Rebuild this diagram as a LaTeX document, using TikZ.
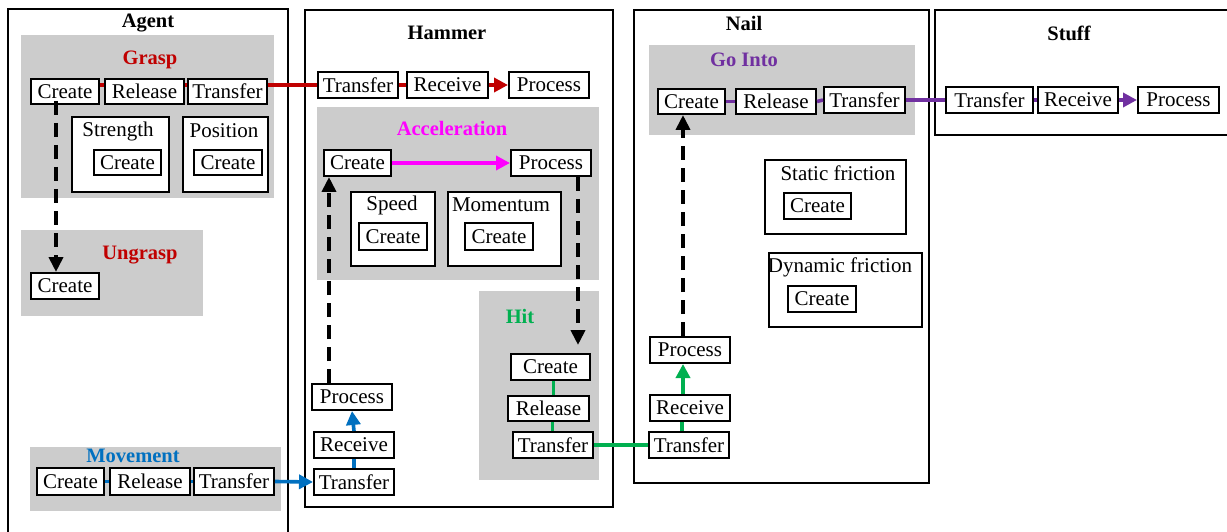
\documentclass[tikz,border=0pt]{standalone}
\usepackage{fontspec}
\setmainfont{Liberation Serif}
\usetikzlibrary{arrows.meta}
\definecolor{cred}{HTML}{C00000}
\definecolor{cmag}{HTML}{FF00FF}
\definecolor{cblue}{HTML}{0070C0}
\definecolor{cgreen}{HTML}{00B050}
\definecolor{cpurp}{HTML}{7030A0}
\definecolor{cgray}{HTML}{CCCCCC}
\tikzset{
  cont/.style={draw, line width=1.8pt},
  grp/.style={fill=cgray, anchor=north west, inner sep=0pt},
  frm/.style={draw, line width=2pt, fill=white, anchor=north west, inner sep=0pt},
  pbox/.style={draw, line width=2pt, fill=white, anchor=north west, inner sep=0pt,
    font=\fontsize{21}{24}\selectfont},
  lbl/.style={inner sep=0pt, font=\fontsize{21}{24}\selectfont},
  ttl/.style={inner sep=0pt, font=\fontsize{20.5}{24}\selectfont\bfseries},
  conn/.style={line width=3.6pt},
  tip/.style={-{Triangle[length=14pt,width=14pt]}},
  dsh/.style={line width=3.8pt, dash pattern=on 14pt off 8pt, -{Triangle[length=15pt,width=14pt]}},
}
\begin{document}
\begin{tikzpicture}[x=1pt, y=-1pt]
\useasboundingbox (0,0) rectangle (1227,532);
% ---------- Agent ----------
\draw[cont] (8,534) -- (8,9) -- (288,9) -- (288,534);
\node[ttl] (tAgent) at (148,23) {Agent};
\node[grp, minimum width=253pt, minimum height=163pt] (gGrasp) at (21,35) {};
\node[ttl, text=cred] (tGrasp) at (150,60) {Grasp};
\node[pbox, minimum width=68pt, minimum height=25pt] (gC) at (30,78) {Create};
\node[pbox, minimum width=79pt, minimum height=25pt] (gR) at (104,78) {Release};
\node[pbox, minimum width=79pt, minimum height=25pt] (gT) at (187,78) {Transfer};
\node[frm, minimum width=97pt, minimum height=75pt] (fStr) at (71,116) {};
\node[lbl] (tStr) at (118,131) {Strength};
\node[pbox, minimum width=67pt, minimum height=25pt] (sC) at (93,149) {Create};
\node[frm, minimum width=85pt, minimum height=75pt] (fPos) at (182,116) {};
\node[lbl] (tPos) at (224,131) {Position};
\node[pbox, minimum width=68pt, minimum height=25pt] (pC) at (193,149) {Create};
\node[grp, minimum width=182pt, minimum height=86pt] (gUng) at (21,230) {};
\node[ttl, text=cred] (tUng) at (140,255) {Ungrasp};
\node[pbox, minimum width=68pt, minimum height=26pt] (uC) at (30,272) {Create};
\node[grp, minimum width=251pt, minimum height=64pt] (gMov) at (30,447) {};
\node[ttl, text=cblue] (tMov) at (133,456) {Movement};
\node[pbox, minimum width=67pt, minimum height=27pt] (mC) at (36,467) {Create};
\node[pbox, minimum width=80pt, minimum height=27pt] (mR) at (109,467) {Release};
\node[pbox, minimum width=80pt, minimum height=27pt] (mT) at (193,467) {Transfer};
% ---------- Hammer ----------
\node[cont, anchor=north west, minimum width=308pt, minimum height=497pt, inner sep=0pt] (cHam) at (304,9) {};
\node[ttl] (tHam) at (447,33) {Hammer};
\node[pbox, minimum width=80pt, minimum height=26pt] (hT) at (317,71) {Transfer};
\node[pbox, minimum width=81pt, minimum height=26pt] (hR) at (406,71) {Receive};
\node[pbox, minimum width=80pt, minimum height=26pt] (hP) at (508,71) {Process};
\node[grp, minimum width=282pt, minimum height=173pt] (gAcc) at (317,107) {};
\node[ttl, text=cmag] (tAcc) at (452,128) {Acceleration};
\node[pbox, minimum width=67pt, minimum height=26pt] (aC) at (323,149) {Create};
\node[pbox, minimum width=80pt, minimum height=26pt] (aP) at (510,149) {Process};
\node[frm, minimum width=84pt, minimum height=74pt] (fSpd) at (350,191) {};
\node[lbl] (tSpd) at (392,205) {Speed};
\node[pbox, minimum width=68pt, minimum height=27pt] (spC) at (358,222) {Create};
\node[frm, minimum width=113pt, minimum height=74pt] (fMom) at (447,191) {};
\node[lbl] (tMom) at (501,205) {Momentum};
\node[pbox, minimum width=68pt, minimum height=27pt] (moC) at (464,222) {Create};
\node[grp, minimum width=120pt, minimum height=189pt] (gHit) at (479,291) {};
\node[ttl, text=cgreen] (tHit) at (520,316) {Hit};
\node[pbox, minimum width=79pt, minimum height=26pt] (hiC) at (510,353) {Create};
\node[pbox, minimum width=81pt, minimum height=25pt] (hiR) at (507,395) {Release};
\node[pbox, minimum width=80pt, minimum height=26pt] (hiT) at (512,431) {Transfer};
\node[pbox, minimum width=80pt, minimum height=26pt] (bP) at (311,383) {Process};
\node[pbox, minimum width=80pt, minimum height=26pt] (bR) at (313,431) {Receive};
\node[pbox, minimum width=80pt, minimum height=26pt] (bT) at (313,468) {Transfer};
% ---------- Nail ----------
\node[cont, anchor=north west, minimum width=295pt, minimum height=473pt, inner sep=0pt] (cNail) at (633,9) {};
\node[ttl] (tNail) at (744,23) {Nail};
\node[grp, minimum width=266pt, minimum height=90pt] (gGo) at (649,45) {};
\node[ttl, text=cpurp] (tGo) at (744,60) {Go Into};
\node[pbox, minimum width=67pt, minimum height=25pt] (nC) at (657,88) {Create};
\node[pbox, minimum width=80pt, minimum height=25pt] (nR) at (735,88) {Release};
\node[pbox, minimum width=81pt, minimum height=26pt] (nT) at (823,86) {Transfer};
\node[frm, minimum width=141pt, minimum height=74pt] (fSta) at (764,159) {};
\node[lbl] (tSta) at (838,173) {Static friction};
\node[pbox, minimum width=67pt, minimum height=26pt] (stC) at (783,192) {Create};
\node[frm, minimum width=153pt, minimum height=74pt] (fDyn) at (768,252) {};
\node[lbl] (tDyn) at (840,267) {Dynamic friction};
\node[pbox, minimum width=68pt, minimum height=26pt] (dyC) at (787,285) {Create};
\node[pbox, minimum width=80pt, minimum height=26pt] (nP) at (649,336) {Process};
\node[pbox, minimum width=80pt, minimum height=26pt] (nRe) at (649,394) {Receive};
\node[pbox, minimum width=80pt, minimum height=26pt] (nTr) at (648,431) {Transfer};
% ---------- Stuff ----------
\draw[cont] (1232,135) -- (935,135) -- (935,10) -- (1232,10);
\node[ttl] (tStuff) at (1069,33) {Stuff};
\node[pbox, minimum width=87pt, minimum height=26pt] (sT) at (945,86) {Transfer};
\node[pbox, minimum width=80pt, minimum height=26pt] (sR) at (1037,86) {Receive};
\node[pbox, minimum width=81pt, minimum height=26pt] (sP) at (1137,86) {Process};
% ---------- connectors ----------
\coordinate (redY) at (0,85);
% red
\draw[conn, cred] (gC.east |- redY) -- (gR.west |- redY);
\draw[conn, cred] (gR.east |- redY) -- (gT.west |- redY);
\draw[conn, cred] (gT.east |- redY) -- (hT.west |- redY);
\draw[conn, cred] (hT.east |- redY) -- (hR.west |- redY);
\draw[conn, cred, tip] (hR.east |- redY) -- (hP.west |- redY);
% blue
\draw[conn, cblue] (mC.east) -- (mR.west);
\draw[conn, cblue] (mR.east) -- (mT.west);
\draw[conn, cblue, tip] (mT.east) -- (bT.west);
\draw[conn, cblue] (bT.north) -- (bR.south);
\draw[conn, cblue, tip] (bR.north) -- (bP.south);
% magenta
\draw[conn, cmag, tip] (aC.east) -- (aP.west);
% green
\draw[conn, cgreen] ([xshift=3pt]hiC.south) -- ([xshift=3pt]hiC.south |- hiR.north);
\draw[conn, cgreen] ([xshift=4pt]hiR.south) -- ([xshift=4pt]hiR.south |- hiT.north);
\draw[conn, cgreen] (hiT.east) -- (nTr.west);
\draw[conn, cgreen] ([xshift=-7pt]nTr.north) -- ([xshift=-7pt]nTr.north |- nRe.south);
\draw[conn, cgreen, tip] ([xshift=-7pt]nRe.north) -- ([xshift=-7pt]nRe.north |- nP.south);
% purple
\draw[conn, cpurp] (nC.east) -- (nR.west);
\draw[conn, cpurp] (nR.east) -- (nT.west);
\draw[conn, cpurp] (nT.east) -- (sT.west);
\draw[conn, cpurp] (sT.east) -- (sR.west);
\draw[conn, cpurp, tip] (sR.east) -- (sP.west);
% dashed black
\draw[dsh] ([xshift=-9pt,yshift=4pt]gC.south) -- ([xshift=-9pt]gC.south |- uC.north);
\draw[dsh] ([xshift=-23pt]bP.north) -- ([xshift=-23pt]bP.north |- aC.south);
\draw[dsh, shorten >=8pt] ([xshift=27pt]aP.south) -- ([xshift=27pt]aP.south |- hiC.north);
\draw[dsh] ([xshift=-7pt]nP.north) -- ([xshift=-7pt]nP.north |- nC.south);
\end{tikzpicture}
\end{document}
